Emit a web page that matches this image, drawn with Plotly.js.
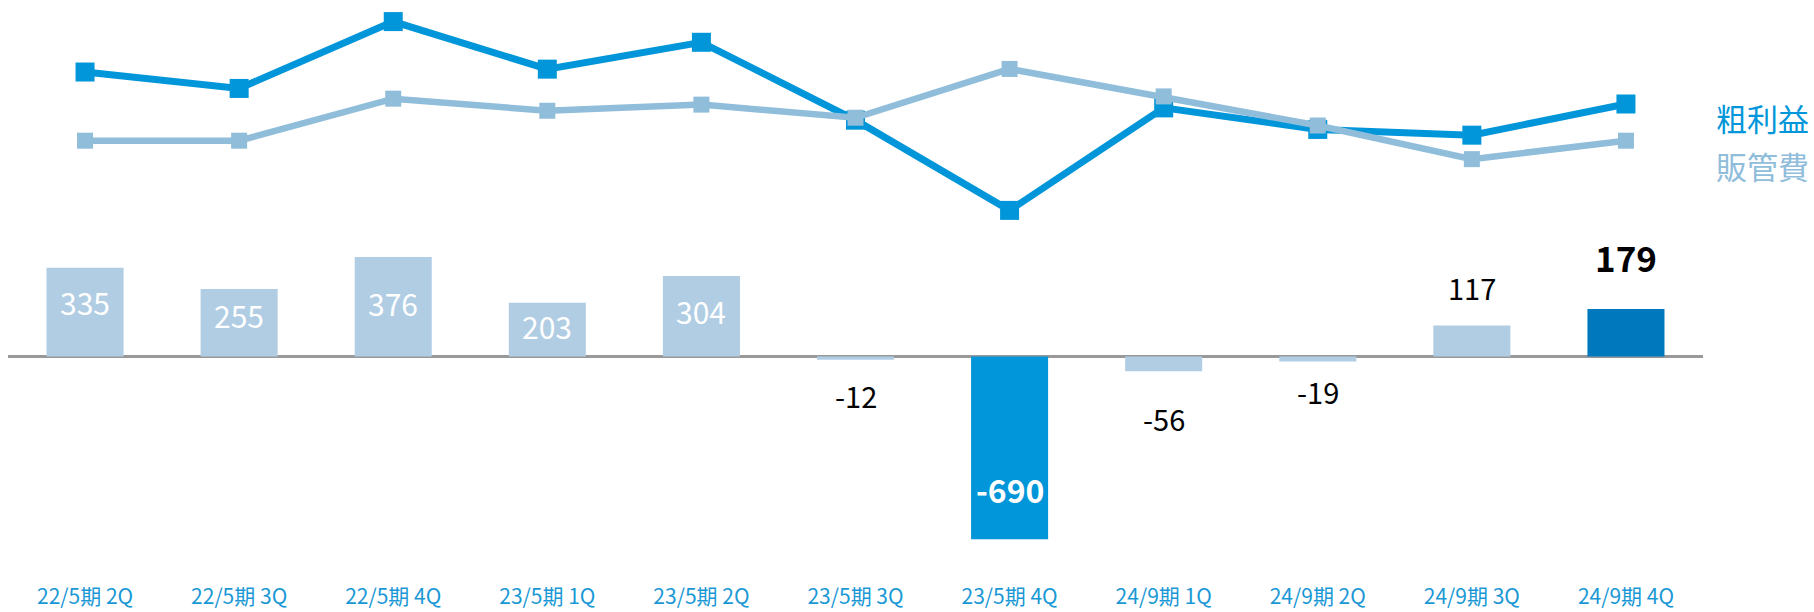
<!DOCTYPE html>
<html><head><meta charset="utf-8">
<script src="https://cdn.plot.ly/plotly-3.0.1.min.js"></script>
<style>html,body{margin:0;padding:0;background:#fff;} #chart{width:1814px;height:612px;}</style>
</head><body><div id="chart"></div>
<script>
// ---- data ----
const categories = ['22/5期 2Q','22/5期 3Q','22/5期 4Q','23/5期 1Q','23/5期 2Q','23/5期 3Q','23/5期 4Q','24/9期 1Q','24/9期 2Q','24/9期 3Q','24/9期 4Q'];
const operatingProfit = [335, 255, 376, 203, 304, -12, -690, -56, -19, 117, 179];
const grossProfit = [1835, 1755, 2081, 1849, 1980, 1600, 1160, 1660, 1555, 1527, 1679];
const sgaExpenses = [1500, 1500, 1705, 1646, 1676, 1612, 1850, 1716, 1574, 1410, 1500];
const seriesNames = ['粗利益', '販管費'];

// ---- styles ----
const FONT = '"Noto Sans CJK JP", "Noto Sans", sans-serif';
const GP_COLOR = '#0096D9';
const SGA_COLOR = '#8FBDDA';
const BAR_LIGHT = '#B0CDE4';
const BAR_NEG_HI = '#0096D9';
const BAR_POS_HI = '#0078BE';
const barColors = operatingProfit.map((v, i) =>
  i === operatingProfit.length - 1 ? BAR_POS_HI : (v <= -300 ? BAR_NEG_HI : BAR_LIGHT));
// label offsets in pixels, per bar
const labelOffsets = [10, 7.5, 3.5, 3.5, 5.5, -35.5, 50.5, -46.5, -29.5, 38.5, 52.5];

const traces = [
  {
    type: 'bar', x: categories, y: operatingProfit, width: 0.5,
    marker: {color: barColors, line: {width: 0}},
    hoverinfo: 'skip', showlegend: false, xaxis: 'x', yaxis: 'y'
  },
  {
    type: 'scatter', mode: 'lines+markers', name: seriesNames[0],
    x: categories, y: grossProfit,
    line: {color: GP_COLOR, width: 7},
    marker: {symbol: 'square', size: 19, color: GP_COLOR},
    showlegend: false, hoverinfo: 'skip', xaxis: 'x', yaxis: 'y2'
  },
  {
    type: 'scatter', mode: 'lines+markers', name: seriesNames[1],
    x: categories, y: sgaExpenses,
    line: {color: SGA_COLOR, width: 6.5},
    marker: {symbol: 'square', size: 16, color: SGA_COLOR},
    showlegend: false, hoverinfo: 'skip', xaxis: 'x', yaxis: 'y2'
  }
];

const annotations = operatingProfit.map((v, i) => {
  const last = i === operatingProfit.length - 1;
  const big = Math.abs(v) > 190;
  let y, color, size, bold = false;
  if (big && v > 0) { y = v / 2; color = '#FFFFFF'; size = 30; }
  else if (big && v < 0) { y = v; color = '#FFFFFF'; size = 32; bold = true; }
  else { y = v; color = '#000000'; size = last ? 35 : 29; bold = last; }
  return {
    x: categories[i], y: y, xref: 'x', yref: 'y', yshift: labelOffsets[i],
    text: bold ? '<b>' + v + '</b>' : String(v),
    showarrow: false, font: {family: FONT, size: size, color: color},
    xanchor: 'center', yanchor: 'middle'
  };
});
annotations.push({
  xref: 'paper', yref: 'paper', x: 1, y: 0.7973, xshift: 11, xanchor: 'left', yanchor: 'middle',
  text: seriesNames[0], showarrow: false, font: {family: FONT, size: 31, color: GP_COLOR}
});
annotations.push({
  xref: 'paper', yref: 'paper', x: 1, y: 0.7148, xshift: 11, xanchor: 'left', yanchor: 'middle',
  text: seriesNames[1], showarrow: false, font: {family: FONT, size: 31, color: SGA_COLOR}
});

const layout = {
  width: 1814, height: 612,
  margin: {l: 7.5, r: 111.4, t: 0, b: 30},
  paper_bgcolor: '#FFFFFF', plot_bgcolor: '#FFFFFF',
  showlegend: false,
  xaxis: {
    type: 'category', range: [-0.5, 10.5], showgrid: false, zeroline: false,
    showline: false, ticks: '', fixedrange: true,
    tickfont: {family: FONT, size: 21, color: '#1A98D5'}
  },
  yaxis: {
    range: [-851.6, 1346.3], showgrid: false, showticklabels: false, ticks: '',
    zeroline: true, zerolinecolor: '#999999', zerolinewidth: 3, showline: false
  },
  yaxis2: {
    range: [-652.7, 2186.3], overlaying: 'y', side: 'right', showgrid: false,
    showticklabels: false, ticks: '', zeroline: false, showline: false
  },
  annotations: annotations
};

Plotly.newPlot('chart', traces, layout, {displayModeBar: false, staticPlot: true});
</script>
</body></html>
